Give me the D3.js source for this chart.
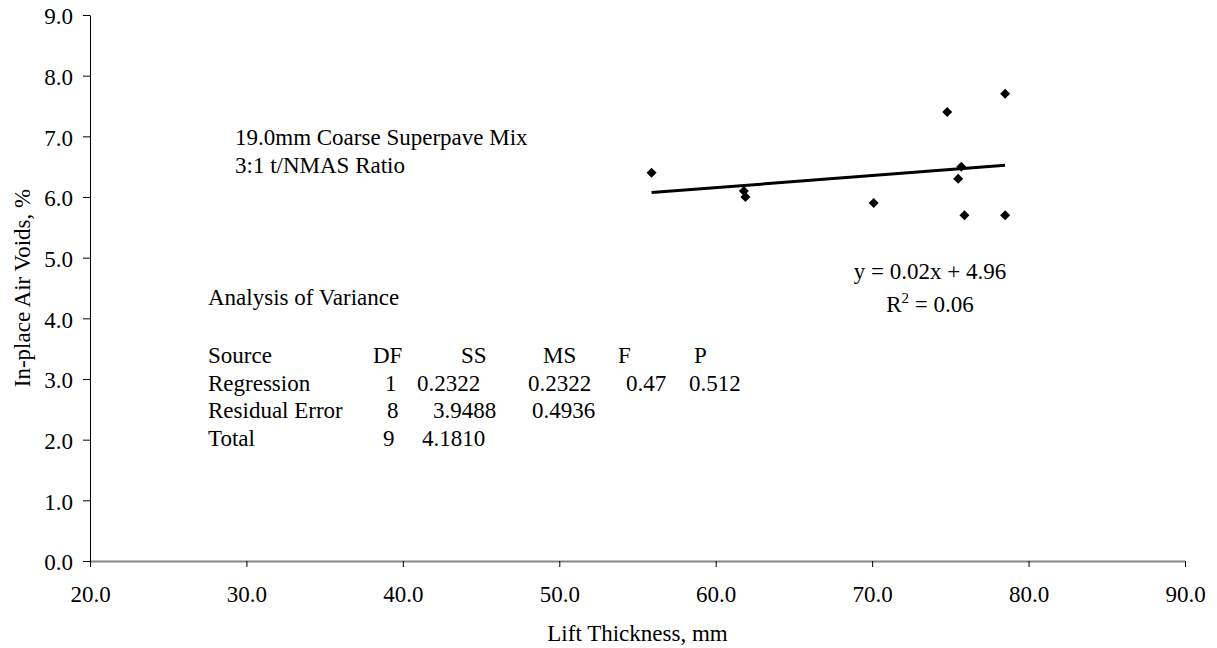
<!DOCTYPE html>
<html>
<head>
<meta charset="utf-8">
<script src="https://cdn.jsdelivr.net/npm/d3@7"></script>
<style>
  body { margin: 0; background: #fff; }
  svg text { font-family: "Liberation Serif", "Times New Roman", serif; font-size: 23px; fill: #000; }
</style>
</head>
<body>
<svg id="chart" width="1217" height="648"></svg>
<script>
// lift thickness (mm) vs in-place air voids (%), one entry per core
const thickness = [55.9, 61.8, 61.9, 70.1, 74.8, 78.5, 75.7, 75.5, 75.9, 78.5];
const airVoids  = [6.4, 6.1, 6.0, 5.9, 7.4, 7.7, 6.5, 6.3, 5.7, 5.7];

const xTicks = [20, 30, 40, 50, 60, 70, 80, 90];
const yTicks = [0, 1, 2, 3, 4, 5, 6, 7, 8, 9];

const mixLabel = ["19.0mm Coarse Superpave Mix", "3:1 t/NMAS Ratio"];
const anovaTitle = "Analysis of Variance";
const anovaHeader = ["Source", "DF", "SS", "MS", "F", "P"];
const anovaRows = [
  ["Regression", "1", "0.2322", "0.2322", "0.47", "0.512"],
  ["Residual Error", "8", "3.9488", "0.4936"],
  ["Total", "9", "4.1810"]
];
const fitLabel = "y = 0.02x + 4.96";
const r2Value = "0.06";

// layout
const plot = { left: 90, right: 1185, top: 15, bottom: 561 };
const serif = '"Liberation Serif", "Times New Roman", serif';

const svg = d3.select("#chart");

const x = d3.scaleLinear().domain([20, 90]).range([plot.left, plot.right]);
const y = d3.scaleLinear().domain([0, 9]).range([plot.bottom, plot.top]);
const fmt = d3.format(".1f");

// axes
const gx = svg.append("g")
  .attr("transform", `translate(0,${plot.bottom})`)
  .call(d3.axisBottom(x).tickValues(xTicks).tickFormat(fmt).tickSize(6).tickSizeOuter(0).tickPadding(19));
gx.select(".domain").attr("stroke", "#868686").attr("stroke-width", 2);

const gy = svg.append("g")
  .attr("transform", `translate(${plot.left},0)`)
  .call(d3.axisLeft(y).tickValues(yTicks).tickFormat(fmt).tickSize(7).tickSizeOuter(0).tickPadding(10));
gy.select(".domain").attr("stroke", "#000").attr("stroke-width", 1);
gy.selectAll(".tick text").attr("dy", "0.38em");

svg.selectAll(".tick line").attr("stroke", "#000");
svg.selectAll(".tick text")
  .attr("fill", "#000")
  .style("font-family", serif)
  .style("font-size", "23px");

// axis titles
svg.append("text")
  .attr("x", (plot.left + plot.right) / 2).attr("y", 641)
  .attr("text-anchor", "middle")
  .text("Lift Thickness, mm");

svg.append("text")
  .attr("transform", `translate(30,${(plot.top + plot.bottom) / 2}) rotate(-90)`)
  .attr("text-anchor", "middle")
  .text("In-place Air Voids, %");

// least squares trend line
const pts = thickness.map((t, i) => ({ t: t, v: airVoids[i] }));
const mx = d3.mean(pts, d => d.t), my = d3.mean(pts, d => d.v);
const sxy = d3.sum(pts, d => (d.t - mx) * (d.v - my));
const sxx = d3.sum(pts, d => (d.t - mx) * (d.t - mx));
const slope = sxy / sxx, icept = my - slope * mx;
const xr = d3.extent(thickness);

svg.append("line")
  .attr("x1", x(xr[0])).attr("y1", y(icept + slope * xr[0]))
  .attr("x2", x(xr[1])).attr("y2", y(icept + slope * xr[1]))
  .attr("stroke", "#000").attr("stroke-width", 3);

// points
svg.selectAll(".pt")
  .data(pts)
  .enter().append("path")
  .attr("class", "pt")
  .attr("d", d3.symbol(d3.symbolSquare, 50))
  .attr("transform", d => `translate(${x(d.t)},${y(d.v)}) rotate(45)`)
  .attr("fill", "#000");

// mix annotation
mixLabel.forEach((s, i) => {
  svg.append("text").attr("x", 235).attr("y", 145 + i * 28).text(s);
});

// ANOVA table
svg.append("text").attr("x", 208).attr("y", 305).text(anovaTitle);

const headX = [208, 373, 461, 543, 618, 694];
anovaHeader.forEach((s, j) => {
  svg.append("text").attr("x", headX[j]).attr("y", 363).text(s);
});

const cellX = [
  [208, 385, 417, 528, 626, 689],
  [208, 387, 433, 532],
  [208, 383, 422]
];
const rowY = [391, 418, 446];
anovaRows.forEach((row, i) => {
  row.forEach((s, j) => {
    svg.append("text").attr("x", cellX[i][j]).attr("y", rowY[i]).text(s);
  });
});

// regression equation
svg.append("text").attr("x", 930).attr("y", 279)
  .attr("text-anchor", "middle").text(fitLabel);

const r2 = svg.append("text").attr("x", 930).attr("y", 312).attr("text-anchor", "middle");
r2.append("tspan").text("R");
r2.append("tspan").attr("dy", -9).style("font-size", "15px").text("2");
r2.append("tspan").attr("dy", 9).text(" = " + r2Value);
</script>
</body>
</html>
